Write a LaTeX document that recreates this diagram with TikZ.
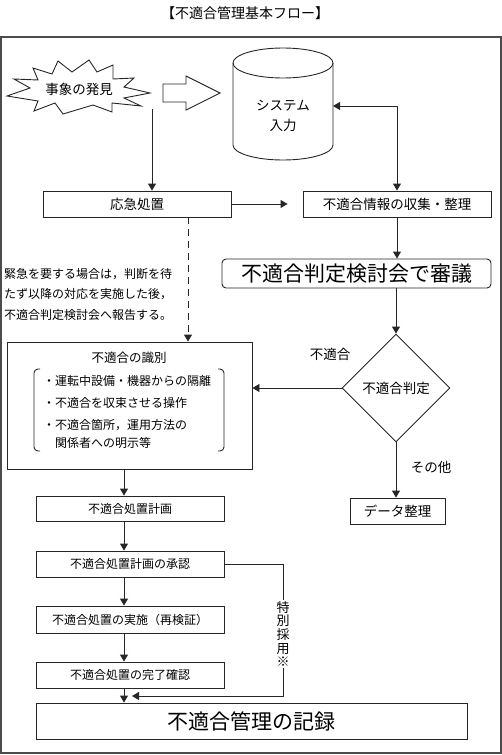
\documentclass[tikz,border=0pt]{standalone}
\usepackage{fontspec}
\setmainfont{Noto Sans CJK JP}
\usetikzlibrary{arrows.meta,shapes.geometric}

\tikzset{
  line/.style={draw=black!85, line width=0.9pt},
  box/.style={line, inner sep=0pt, minimum width=188pt, minimum height=26pt,
    font=\fontsize{13.5}{15}\selectfont},
  smallbox/.style={box, font=\fontsize{12}{14}\selectfont},
  bigbox/.style={line, inner sep=0pt, font=\fontsize{21}{24}\selectfont},
  arr/.style={line, -{Triangle[length=7pt,width=8pt]}},
  lbl/.style={inner sep=0pt, font=\fontsize{13.5}{15}\selectfont},
}

\begin{document}
\begin{tikzpicture}[x=1pt,y=-1pt]
  \useasboundingbox (0,0) rectangle (502,755);

  \node[lbl, font=\fontsize{14}{16}\selectfont] (title) at (245,13) {【不適合管理基本フロー】};
  \draw[draw=black!70, line width=1.2pt] (1,37) rectangle (501,753);

  % top row
  \draw[line] (7,96) -- (30,88) -- (14,79) -- (38,80) -- (33,68) -- (52,74) -- (58,61)
    -- (72,72) -- (89,60) -- (97,72) -- (113,65) -- (113,79) -- (134,78) -- (124,87)
    -- (150,93) -- (124,98) -- (141,106) -- (112,103) -- (112,112) -- (93,105)
    -- (63,114) -- (55,103) -- (34,111) -- (38,101) -- cycle;
  \node[lbl] (event) at (79,89) {事象の発見};

  \draw[line] (163,84) -- (186,84) -- (186,76) -- (220,93) -- (186,110) -- (186,102)
    -- (163,102) -- cycle;

  \draw[line] (233,63) -- (233,145) arc[start angle=180, end angle=0, x radius=50, y radius=15]
    -- (333,63);
  \draw[line] (283,63) ellipse [x radius=50, y radius=15];
  \node[lbl, align=center, font=\fontsize{13.5}{20}\selectfont] (sys) at (283,116) {システム\\入力};
  \coordinate (sysE) at (333,106);
  \coordinate (found) at (152,109);

  \node[box] (ouq) at (137,204) {応急処置};
  \node[box] (info) at (397,204) {不適合情報の収集・整理};
  \node[bigbox, rounded corners=4pt, minimum width=269pt, minimum height=29pt] (shingi)
    at (356.5,273.5) {不適合判定検討会で審議};
  \node[line, diamond, aspect=1, inner sep=0pt, minimum width=108pt, minimum height=108pt,
    font=\fontsize{13.5}{15}\selectfont] (judge) at (396,388) {不適合判定};
  \node[box, minimum width=95pt] (data) at (397.5,511) {データ整理};

  \draw[arr] (found) -- (found |- ouq.north);
  \draw[arr, shorten >=15pt] (ouq.east) -- (info.west);
  \draw[line, {Triangle[length=7pt,width=8pt]}-{Triangle[length=7pt,width=8pt]}] (info.north) |- (sysE);
  \draw[arr] (info.south) -- (info.south |- shingi.north);
  \draw[arr] (judge.north |- shingi.south) -- (judge.north);
  \draw[arr] (judge.south) -- (judge.south |- data.north);
  \node[lbl] (ng) at (330,354) {不適合};
  \node[lbl] (other) at (431,467) {その他};

  % note
  \node[anchor=north west, inner sep=0pt, align=left, font=\fontsize{12}{20.5}\selectfont]
    (note) at (4,268) {緊急を要する場合は，判断を待\\たず以降の対応を実施した後，\\不適合判定検討会へ報告する。};

  % identification box
  \node[line, inner sep=0pt, minimum width=245pt, minimum height=127pt] (shiki) at (129.5,405.5) {};
  \node[inner sep=0pt, font=\fontsize{12.5}{14}\selectfont] (shikiT) at (129,358) {不適合の識別};
  \draw[line, rounded corners=4pt] (40,369) -- (34,369) -- (34,451) -- (40,451);
  \draw[line, rounded corners=4pt] (218,369) -- (224,369) -- (224,451) -- (218,451);
  \node[anchor=west, inner sep=0pt, font=\fontsize{12}{14}\selectfont] (it1) at (43,381) {・運転中設備・機器からの隔離};
  \node[anchor=west, inner sep=0pt, font=\fontsize{12}{14}\selectfont] (it2) at (43,403) {・不適合を収束させる操作};
  \node[anchor=north west, inner sep=0pt, align=left, font=\fontsize{12}{18}\selectfont] (it3)
    at (43,419) {・不適合箇所，運用方法の\\\hspace*{1em}関係者への明示等};

  \draw[arr, dash pattern=on 7pt off 5pt] ([xshift=51pt]ouq.south) -- ([xshift=51pt]ouq.south |- shiki.north);
  \draw[arr] (judge.west) -- (judge.west -| shiki.east);

  % left column
  \node[smallbox, minimum height=25pt] (plan) at (130,508.5) {不適合処置計画};
  \node[smallbox] (appr) at (130,564) {不適合処置計画の承認};
  \node[smallbox, minimum height=27pt] (exec) at (130,619.5) {不適合処置の実施（再検証）};
  \node[smallbox] (done) at (130,675) {不適合処置の完了確認};
  \node[bigbox, minimum width=431pt, minimum height=36pt] (record) at (251.5,721) {不適合管理の記録};

  \coordinate (col) at (124,0);
  \draw[arr] (col |- shiki.south) -- (col |- plan.north);
  \draw[arr] (col |- plan.south) -- (col |- appr.north);
  \draw[arr] (col |- appr.south) -- (col |- exec.north);
  \draw[arr] (col |- exec.south) -- (col |- done.north);
  \draw[arr] (col |- done.south) -- (col |- record.north);

  \coordinate (sp) at (283,696);
  \coordinate (spEnd) at (132,696);
  \draw[arr] (appr.east) -| (sp) -- (spEnd);
  \node[fill=white, inner sep=1pt, align=center, font=\fontsize{13}{13.6}\selectfont]
    (special) at (283,634) {特\\別\\採\\用\\※};
\end{tikzpicture}
\end{document}
